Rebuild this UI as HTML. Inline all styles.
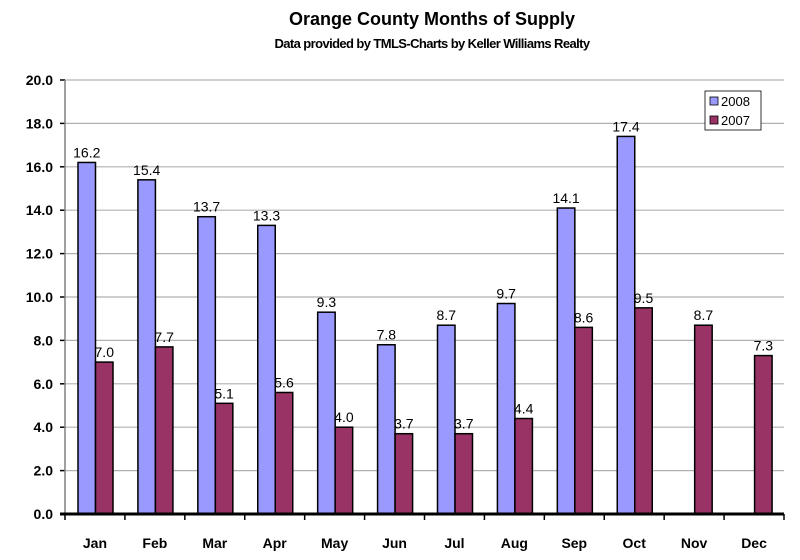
<!DOCTYPE html>
<html><head><meta charset="utf-8"><style>
body{margin:0;background:#fff;width:800px;height:555px;overflow:hidden}
svg text{font-family:"Liberation Sans",Arial,sans-serif}
</style></head><body>
<svg width="800" height="555">
<text x="432" y="25" text-anchor="middle" font-size="18" font-weight="bold">Orange County  Months of Supply</text>
<text x="432" y="48" text-anchor="middle" font-size="13" font-weight="bold" letter-spacing="-0.6">Data provided by TMLS-Charts by Keller Williams Realty</text>
<g id="grid"></g><g id="bars"></g><g id="axes"></g>
<g>
<rect x="705" y="91" width="56" height="39" fill="#fff" stroke="#000" stroke-width="0.8"/>
<rect x="710" y="97" width="8" height="8" fill="#9999ff" stroke="#000" stroke-width="0.8"/>
<text x="721" y="106" font-size="13">2008</text>
<rect x="710" y="116" width="8" height="8" fill="#993366" stroke="#000" stroke-width="0.8"/>
<text x="721" y="125" font-size="13">2007</text>
</g>
</svg>
<script>
const months=["Jan","Feb","Mar","Apr","May","Jun","Jul","Aug","Sep","Oct","Nov","Dec"];
const s2008=[16.2,15.4,13.7,13.3,9.3,7.8,8.7,9.7,14.1,17.4,null,null];
const s2007=[7.0,7.7,5.1,5.6,4.0,3.7,3.7,4.4,8.6,9.5,8.7,7.3];
const yTicks=[0,2,4,6,8,10,12,14,16,18,20];
const X0=65,X1=784,Y0=514,YT=80;
const cw=(X1-X0)/months.length;
const y=v=>Y0-(v/20)*(Y0-YT);
const ns="http://www.w3.org/2000/svg";
function mk(tag,attrs,parent,txt){const e=document.createElementNS(ns,tag);for(const k in attrs)e.setAttribute(k,attrs[k]);if(txt!=null)e.textContent=txt;document.getElementById(parent).appendChild(e);return e;}
yTicks.forEach(t=>{
 if(t>0){const g=mk('line',{x1:X0,x2:X1,y1:y(t),y2:y(t),stroke:'#b0b0b0','stroke-width':1.2},'grid');
 
 }
 mk('line',{x1:X0-5,x2:X0,y1:y(t),y2:y(t),stroke:'#000','stroke-width':1.5},'axes');
 const l=mk('text',{x:X0-12,y:y(t)+5,'text-anchor':'end','font-size':14,'font-weight':'bold'},'axes',t.toFixed(1));
 
 
});
const bw=17.5;
function bar(v,i,off,col,name){
 if(v==null)return;
 const bx=X0+i*cw+13+off;
 const r=mk('rect',{x:bx,y:y(v),width:bw,height:Y0-y(v),fill:col,stroke:'#000','stroke-width':1.5},'bars');
 
 
 const t=mk('text',{x:bx+bw/2,y:y(v)-5,'text-anchor':'middle','font-size':14},'bars',v.toFixed(1));
 
 
}
months.forEach((m,i)=>{
 bar(s2008[i],i,0,'#9999ff','bar-2008-'+m.toLowerCase());
 bar(s2007[i],i,bw,'#993366','bar-2007-'+m.toLowerCase());
 const l=mk('text',{x:X0+(i+0.5)*cw,y:548,'text-anchor':'middle','font-size':14,'font-weight':'bold'},'axes',m);
 
 
});
for(let i=0;i<=months.length;i++)mk('line',{x1:X0+i*cw,x2:X0+i*cw,y1:Y0,y2:Y0+6,stroke:'#000','stroke-width':1.5},'axes');
const ax=mk('line',{x1:X0,x2:X0,y1:YT,y2:Y0,stroke:'#808080','stroke-width':1.5},'axes');


const bx=mk('line',{x1:X0-5,x2:X1,y1:Y0,y2:Y0,stroke:'#000','stroke-width':3},'axes');


</script>
</body></html>
